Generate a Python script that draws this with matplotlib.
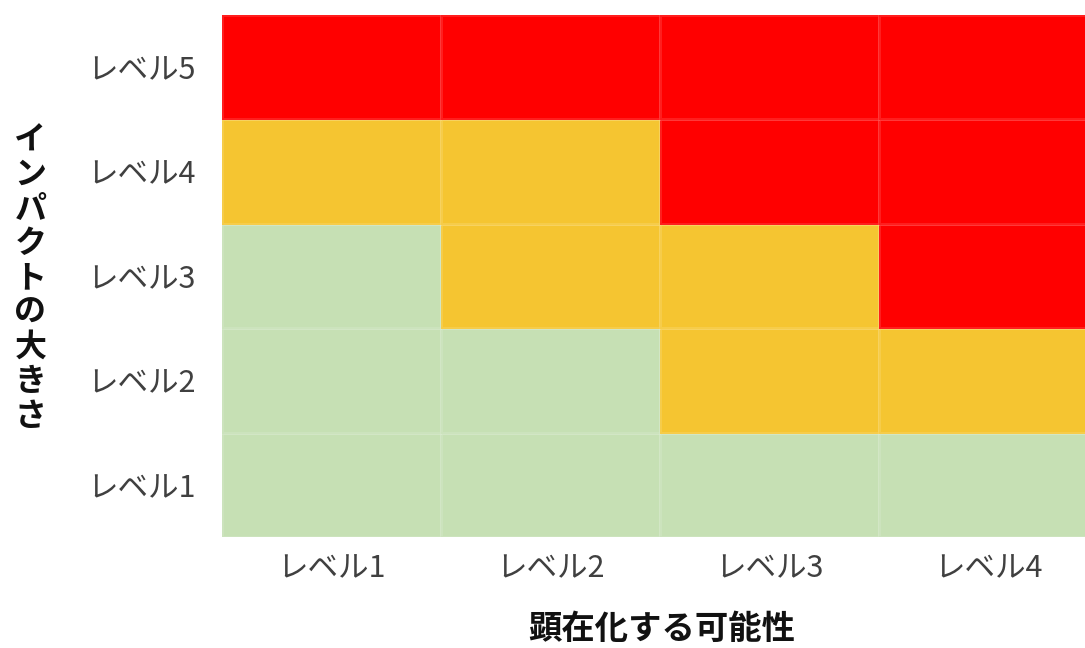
import numpy as np
import matplotlib.pyplot as plt
from matplotlib.colors import ListedColormap

plt.rcParams['font.family'] = ['Noto Sans CJK JP', 'DejaVu Sans']

likelihood = ['レベル1', 'レベル2', 'レベル3', 'レベル4']
impact = ['レベル1', 'レベル2', 'レベル3', 'レベル4', 'レベル5']
# リスク区分 0=低, 1=中, 2=高 (下の行から)
risk = [
    [0, 0, 0, 0],
    [0, 0, 1, 1],
    [0, 1, 1, 2],
    [1, 1, 2, 2],
    [2, 2, 2, 2],
]
risk_colors = ['#c6e0b4', '#f5c531', '#ff0000']

fig = plt.figure(figsize=(10.85, 6.48), dpi=100)
# 右端は画像の外まで少しはみ出している
ax = fig.add_axes([0.2046, 0.1713, 0.8074, 0.8057])

cmap = ListedColormap(risk_colors)
ax.pcolormesh(np.arange(len(likelihood) + 1), np.arange(len(impact) + 1),
              np.array(risk), cmap=cmap, vmin=-0.5, vmax=2.5,
              edgecolor=(1, 1, 1, 0.12), linewidth=0.8)

ax.set_xticks(np.arange(len(likelihood)) + 0.5)
ax.set_xticklabels(likelihood, fontsize=22, color='#404040')
ax.set_yticks(np.arange(len(impact)) + 0.5)
ax.set_yticklabels(impact, fontsize=22, color='#404040')
ax.tick_params(axis='x', length=0, pad=12)
ax.tick_params(axis='y', length=0, pad=19)
for s in ax.spines.values():
    s.set_visible(False)

fig.text(0.6095, 0.028, '顕在化する可能性', fontsize=24, fontweight='bold',
         ha='center', va='center', color='#111111')
fig.text(0.028, 0.57, '\n'.join('インパクトの大きさ'), fontsize=23,
         fontweight='bold', ha='center', va='center', linespacing=1.1,
         color='#111111')

fig.savefig('out.png', dpi=100)
